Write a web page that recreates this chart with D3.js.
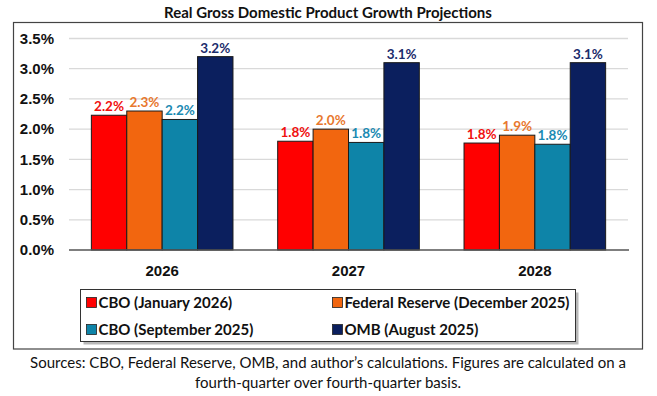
<!DOCTYPE html>
<html>
<head>
<meta charset="utf-8">
<script src="https://cdn.jsdelivr.net/npm/d3@7"></script>
<style>
  body { margin: 0; background: #fff; }
  svg { display: block; font-family: Lato, "Open Sans", sans-serif; }
  .grid line { stroke: #d9d9d9; stroke-width: 1.3; }
  .y.axis text, .x.axis text { font-weight: bold; font-size: 15px; fill: #111; }
</style>
</head>
<body>
<svg id="chart" width="657" height="396"></svg>
<script>
var years = ["2026", "2027", "2028"];
var seriesNames = ["CBO (January 2026)", "Federal Reserve (December 2025)",
                   "CBO (September 2025)", "OMB (August 2025)"];
var cboJan = [2.23, 1.80, 1.77];
var fedDec = [2.30, 2.00, 1.90];
var cboSep = [2.16, 1.78, 1.75];
var ombAug = [3.20, 3.10, 3.10];
var barLabels = [
  ["2.2%", "1.8%", "1.8%"],
  ["2.3%", "2.0%", "1.9%"],
  ["2.2%", "1.8%", "1.8%"],
  ["3.2%", "3.1%", "3.1%"]
];
var yTicks = [0, 0.5, 1, 1.5, 2, 2.5, 3, 3.5];

var barColors = ["#ff0000", "#f2660f", "#0e84a8", "#0b1f5e"];
var labelColors = ["#f01010", "#e8782e", "#1a8ab2", "#1c2c6c"];

var series = [cboJan, fedDec, cboSep, ombAug];

var svg = d3.select("#chart");

// title
svg.append("text")
    .attr("x", 328)
    .attr("y", 18)
    .attr("text-anchor", "middle")
    .style("font-weight", "bold")
    .style("font-size", "15px")
    .style("fill", "#111")
    .text("Real Gross Domestic Product Growth Projections");

// frame
svg.append("rect")
    .attr("x", 13.5).attr("y", 22.5)
    .attr("width", 629).attr("height", 326.5)
    .attr("fill", "none")
    .attr("stroke", "#444")
    .attr("stroke-width", 1.2);

var y = d3.scaleLinear().domain([0, 3.5]).range([250, 38.5]);
var x0 = d3.scaleBand().domain(years).range([69, 628]).paddingInner(0.24).paddingOuter(0.12);
var x1 = d3.scaleBand().domain(d3.range(series.length)).range([0, x0.bandwidth()]);

svg.append("g")
    .attr("class", "grid")
    .selectAll("line")
    .data(yTicks.slice(1))
  .enter().append("line")
    .attr("x1", 69).attr("x2", 628)
    .attr("y1", d => y(d)).attr("y2", d => y(d));

var yAxis = d3.axisLeft(y)
    .tickValues(yTicks)
    .tickFormat(d => d3.format(".1f")(d) + "%")
    .tickSize(0)
    .tickPadding(15);

svg.append("g")
    .attr("class", "y axis")
    .attr("transform", "translate(69,0)")
    .call(yAxis)
    .call(g => g.select(".domain").remove());

var groups = svg.selectAll("g.year")
    .data(years)
  .enter().append("g")
    .attr("class", "year")
    .attr("transform", d => `translate(${x0(d)},0)`);

series.forEach((vals, s) => {
  groups.append("rect")
      .attr("x", x1(s))
      .attr("y", (d, i) => y(vals[i]))
      .attr("width", x1.bandwidth())
      .attr("height", (d, i) => y(0) - y(vals[i]))
      .attr("fill", barColors[s])
      .attr("stroke", "#1a1a1a")
      .attr("stroke-width", 1);

  groups.append("text")
      .attr("x", x1(s) + x1.bandwidth() / 2)
      .attr("y", (d, i) => y(vals[i]) - 4)
      .attr("text-anchor", "middle")
      .style("font-weight", "bold")
      .style("font-size", "13.5px")
      .style("fill", labelColors[s])
      .text((d, i) => barLabels[s][i]);
});

// x axis baseline
svg.append("line")
    .attr("x1", 69).attr("x2", 629)
    .attr("y1", y(0)).attr("y2", y(0))
    .attr("stroke", "#555")
    .attr("stroke-width", 1.3);

var xAxis = d3.axisBottom(x0).tickSize(0).tickPadding(15);
svg.append("g")
    .attr("class", "x axis")
    .attr("transform", `translate(0,${y(0)})`)
    .call(xAxis)
    .call(g => g.select(".domain").remove());

// legend
var legend = svg.append("g").attr("transform", "translate(80.5,289.5)");
legend.append("rect")
    .attr("x", 3).attr("y", 3)
    .attr("width", 495).attr("height", 52)
    .attr("fill", "#b8b8b8");
legend.append("rect")
    .attr("width", 495).attr("height", 52)
    .attr("fill", "#fff")
    .attr("stroke", "#333")
    .attr("stroke-width", 1);

var legendPos = [[6, 13], [252, 13], [6, 40], [252, 40]];
var item = legend.selectAll("g.item")
    .data(seriesNames)
  .enter().append("g")
    .attr("class", "item")
    .attr("transform", (d, i) => `translate(${legendPos[i][0]},${legendPos[i][1]})`);

item.append("rect")
    .attr("x", 0).attr("y", -5)
    .attr("width", 10).attr("height", 10)
    .attr("fill", (d, i) => barColors[i])
    .attr("stroke", "#222")
    .attr("stroke-width", 0.8);

item.append("text")
    .attr("x", 12)
    .attr("dy", "0.35em")
    .style("font-weight", "bold")
    .style("font-size", "15px")
    .style("fill", "#111")
    .text(d => d);

// source note
var note = svg.append("text")
    .attr("text-anchor", "middle")
    .style("font-size", "15px")
    .style("fill", "#111");
note.append("tspan").attr("x", 328).attr("y", 368)
    .text("Sources: CBO, Federal Reserve, OMB, and author\u2019s calculations. Figures are calculated on a");
note.append("tspan").attr("x", 328).attr("y", 388)
    .text("fourth-quarter over fourth-quarter basis.");
</script>
</body>
</html>
